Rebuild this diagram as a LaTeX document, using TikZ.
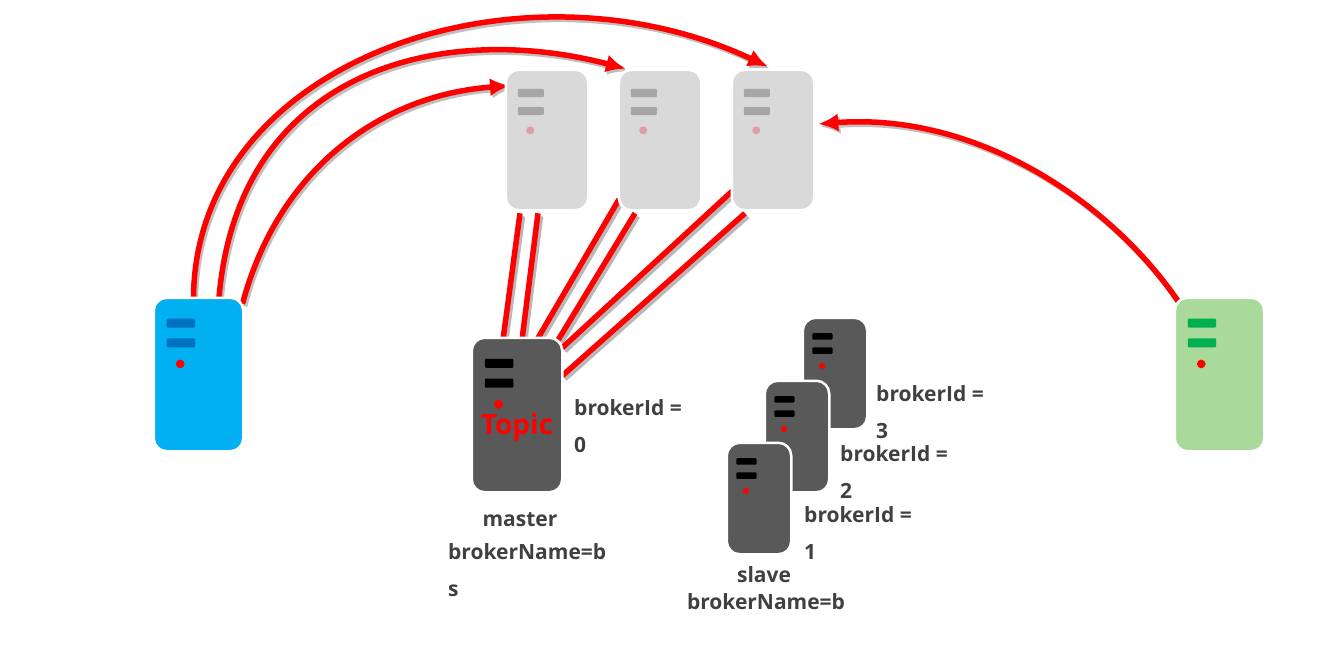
\documentclass[tikz,border=0pt]{standalone}
\usepackage{fontspec}
\setmainfont{Open Sans}
\usepackage{tikz}
\usetikzlibrary{arrows.meta,backgrounds}
\definecolor{blueserver}{HTML}{00B0F0}
\definecolor{bluebar}{HTML}{0070C0}
\definecolor{greenserver}{HTML}{A9D99B}
\definecolor{greenbar}{HTML}{00B050}
\definecolor{darkserver}{HTML}{595959}
\definecolor{greyserver}{HTML}{D9D9D9}
\definecolor{greybar}{HTML}{A6A6A6}
\definecolor{greydot}{HTML}{DF9F9F}
\definecolor{labeltext}{HTML}{404040}
\tikzset{
	serverbox/.style={draw=white, line width=2.5pt, rounded corners=13pt, inner sep=0pt, outer sep=0pt},
	redline/.style={draw=red, line width=5.5pt, preaction={draw=black!28, line width=5.5pt, transform canvas={shift={(2.5pt,-3pt)}}}},
	redarc/.style={draw=red, line width=5.5pt, -{Latex[length=20pt,width=18pt]}, preaction={draw=black!25, line width=5.5pt, -{Latex[length=20pt,width=18pt]}, transform canvas={shift={(2pt,-2.5pt)}}}},
	brokertext/.style={text=labeltext, font=\fontsize{21}{37}\selectfont\bfseries, align=left, anchor=north west, inner sep=0pt},
	nametext/.style={text=labeltext, font=\fontsize{21}{23}\selectfont\bfseries, inner sep=0pt},
}
% name, left, top, width, height, body, bars, dot
\newcommand{\servernode}[8]{
	\begin{scope}[shift={(#2,#3)}, x=#4pt, y=-#5pt]
		\node[serverbox, fill=#6, minimum width=#4pt+2.5pt, minimum height=#5pt+2.5pt] (#1) at (.5,.5) {};
		\fill[#7, rounded corners=1pt] (.135,.13) rectangle (.46,.19);
		\fill[#7, rounded corners=1pt] (.135,.26) rectangle (.46,.32);
		\fill[#8] (.29,.43) circle [radius=.05*#4pt];
	\end{scope}
}
\begin{document}
\begin{tikzpicture}[x=1pt, y=-1pt]
	\useasboundingbox (0,0) rectangle (1340,650);
	\servernode{client}{155}{299}{87}{151}{blueserver}{bluebar}{red}
	\servernode{producer}{1176}{299}{87}{151}{greenserver}{greenbar}{red}
	\servernode{nameA}{507}{71}{80}{138}{greyserver}{greybar}{greydot}
	\servernode{nameB}{620}{71}{80}{138}{greyserver}{greybar}{greydot}
	\servernode{nameC}{733}{71}{80}{138}{greyserver}{greybar}{greydot}
	\servernode{master}{473}{339}{88}{152}{darkserver}{black}{red}
	\servernode{slaveC}{804}{319}{62}{109}{darkserver}{black}{red}
	\servernode{slaveB}{766}{382}{62}{109}{darkserver}{black}{red}
	\servernode{slaveA}{728}{444}{62}{109}{darkserver}{black}{red}
	\begin{pgfonlayer}{background}
		\draw[redarc] ([xshift=-5pt,yshift=-6pt]client.north) .. controls (190,60) and (520,-50) .. ([xshift=-5pt,yshift=3pt]nameC.north);
		\draw[redarc] ([xshift=20pt,yshift=-6pt]client.north) .. controls (235,70) and (440,20) .. ([xshift=-34pt,yshift=1pt]nameB.north);
		\draw[redarc] ([xshift=44pt,yshift=-6pt]client.north) .. controls (278,170) and (380,95) .. ([xshift=-37pt,yshift=-16pt]nameA.north);
		\draw[redarc] ([xshift=5pt,yshift=-6pt]producer.north west) .. controls (1110,200) and (975,112) .. ([xshift=4pt,yshift=16pt]nameC.east);
		\draw[redline] ([xshift=-14pt,yshift=-2pt]master.north) -- ([xshift=-27pt,yshift=-3pt]nameA.south);
		\draw[redline] ([xshift=5pt,yshift=-2pt]master.north) -- ([xshift=-9pt,yshift=-3pt]nameA.south);
		\draw[redline] ([xshift=20pt,yshift=-2pt]master.north) -- ([xshift=-41pt,yshift=11pt]nameB.south);
		\draw[redline] ([xshift=-4pt,yshift=-2pt]master.north east) -- ([xshift=-25pt,yshift=-3pt]nameB.south);
		\draw[redline] ([yshift=-10pt]master.north east) -- ([xshift=-41pt,yshift=19pt]nameC.south);
		\draw[redline] ([yshift=-38pt]master.north east) -- ([xshift=-28pt,yshift=-3pt]nameC.south);
	\end{pgfonlayer}
	\node[text=red, font=\fontsize{28}{28}\selectfont\bfseries, inner sep=0pt] (topic) at (517,427) {Topic};
	\node[brokertext] (idM) at (574,399) {brokerId =\\0};
	\node[brokertext] (idC) at (876,385) {brokerId =\\3};
	\node[brokertext] (idB) at (840,445) {brokerId =\\2};
	\node[brokertext] (idA) at (804,506) {brokerId =\\1};
	\node[nametext] (masterlabel) at (520,520) {master};
	\node[brokertext] (masterbroker) at (448,543) {brokerName=b\\s};
	\node[nametext] (slavelabel) at (764,575) {slave};
	\node[nametext] (slavebroker) at (766,602) {brokerName=b};
\end{tikzpicture}
\end{document}
